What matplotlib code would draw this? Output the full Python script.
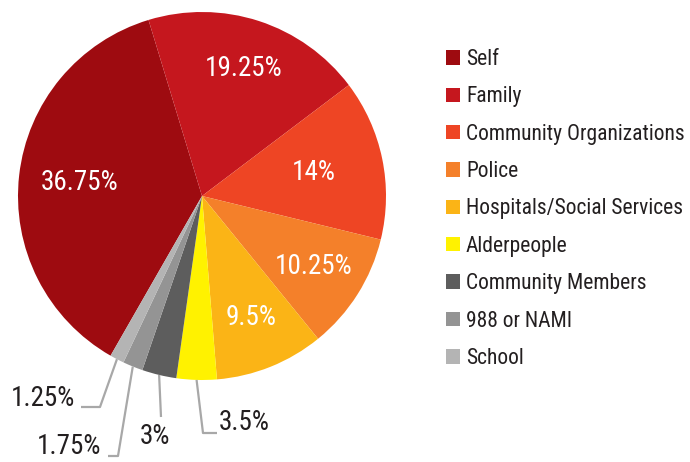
import matplotlib
matplotlib.use("Agg")
import matplotlib.pyplot as plt
from matplotlib import font_manager
from matplotlib.patches import Patch
import numpy as np

# the reference uses a condensed face; use one if present, else shrink Roboto
installed = {f.name for f in font_manager.fontManager.ttflist}
narrow = [n for n in ['Roboto Condensed', 'Liberation Sans Narrow', 'Open Sans Condensed']
          if n in installed]
if narrow:
    plt.rcParams['font.family'] = [narrow[0], 'DejaVu Sans']
    LEG_FS, PCT_FS = 15.5, 19.5
else:
    plt.rcParams['font.family'] = ['Roboto', 'DejaVu Sans']
    LEG_FS, PCT_FS = 12.2, 18

sources = ['Self', 'Family', 'Community Organizations', 'Police',
           'Hospitals/Social Services', 'Alderpeople', 'Community Members',
           '988 or NAMI', 'School']
shares = [36.75, 19.25, 14, 10.25, 9.5, 3.5, 3, 1.75, 1.25]
colors = ['#9E0B10', '#C5171E', '#EE4524', '#F4802A', '#FBB416',
          '#FFF200', '#5D5D5D', '#949494', '#B4B4B4']
pct_labels = [f"{v:g}%" for v in shares]

# pixel layout helpers (pie centre 202,196 ; radius 184 px)
CX, CY, R = 202, 196, 184


def px(x, y):
    return (x - CX) / R, (CY - y) / R


fig = plt.figure(figsize=(6.9, 4.62), dpi=100)
ax = fig.add_axes([0, 0, 1, 1])

wedges, _ = ax.pie(shares, colors=colors, startangle=240.2, counterclock=False,
                   radius=1, center=(0, 0), wedgeprops=dict(linewidth=0))

# labels inside the big slices
inside_dist = [0.67, 0.73, 0.62, 0.72, 0.71]
for w, lab, d in zip(wedges[:5], pct_labels[:5], inside_dist):
    mid = np.deg2rad((w.theta1 + w.theta2) / 2)
    ax.text(d * np.cos(mid), d * np.sin(mid), lab, color='white',
            fontsize=PCT_FS, ha='center', va='center')

# leader lines for the small slices: (knee, end, text pos, ha)
leaders = [
    ((203, 433), (217, 433), (219, 423), 'left'),
    ((161, 417), (161, 417), (155, 436), 'center'),
    ((118, 456), (108, 456), (101, 446), 'right'),
    ((100, 407), (81, 407), (75, 398), 'right'),
]
for w, lab, (knee, end, tpos, ha) in zip(wedges[5:], pct_labels[5:], leaders):
    mid = np.deg2rad((w.theta1 + w.theta2) / 2)
    pts = [(np.cos(mid), np.sin(mid)), px(*knee), px(*end)]
    xs, ys = zip(*pts)
    ax.plot(xs, ys, color='#A8A8A8', lw=1.6, solid_capstyle='butt')
    tx, ty = px(*tpos)
    ax.text(tx, ty, lab, color='#231F20', fontsize=PCT_FS, ha=ha, va='center')

ax.set_xlim(-CX / R, (690 - CX) / R)
ax.set_ylim(-(462 - CY) / R, CY / R)
ax.set_aspect('equal')
ax.axis('off')

fs_px = LEG_FS * 100 / 72
handles = [Patch(facecolor=c, edgecolor='none') for c in colors]
ax.legend(handles, sources, loc='upper left', bbox_to_anchor=(446 / 690, 1 - 49 / 462),
          bbox_transform=fig.transFigure, frameon=False, fontsize=LEG_FS,
          handlelength=14 / fs_px, handleheight=14 / fs_px, handletextpad=6 / fs_px,
          labelspacing=37.25 / fs_px - 0.97, borderpad=0, borderaxespad=0,
          labelcolor='#231F20')

plt.savefig("out.png")
